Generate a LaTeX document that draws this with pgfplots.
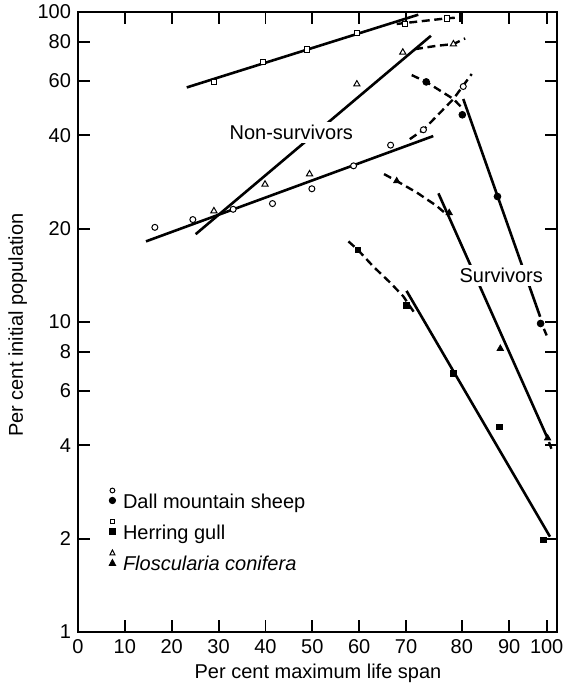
\documentclass[border=0pt]{standalone}
\usepackage{fontspec}
\setmainfont{Liberation Sans}
\usepackage{pgfplots}
\pgfplotsset{compat=1.18}
\pgfplotsset{
  fit/.style={black, line width=1.3pt, no marks, forget plot},
  dsh/.style={black, line width=1.2pt, dash pattern=on 4pt off 2.3pt, no marks, forget plot},
  om/.style={only marks, black, forget plot, mark options={line width=0.5pt, fill=white, solid}},
  fm/.style={only marks, black, forget plot, mark options={fill=black, solid}},
}
\begin{document}
\begin{tikzpicture}
\begin{axis}[
  scale only axis, width=239.5pt, height=310pt,
  xmin=0, xmax=102.2, ymin=1, ymax=100, ymode=log,
  xtick={0,10,20,30,40,50,60,70,81.9,92,100},
  xticklabels={0,10,20,30,40,50,60,70,80,90,100},
  ytick={1,2,4,6,8,10,20,40,60,80,100},
  yticklabels={1,2,4,6,8,10,20,40,60,80,100},
  minor ytick={},
  xtick pos=both, ytick pos=both, xticklabel pos=lower, yticklabel pos=left,
  tick align=inside, major tick length=6pt,
  every tick/.style={black, line width=0.9pt},
  axis line style={black, line width=1.2pt},
  tick label style={font=\fontsize{10}{12}\selectfont},
  /pgf/number format/assume math mode=true,
  xlabel={Per cent maximum life span},
  ylabel={Per cent initial population},
  xlabel style={at={(axis description cs:0.501,-0.066)}, anchor=center, font=\fontsize{10}{12}\selectfont},
  ylabel style={at={(axis description cs:-0.126,0.495)}, anchor=center, font=\fontsize{10}{12}\selectfont},
  legend style={at={(axis description cs:0.051,0.24)}, anchor=north west, draw=none, fill=none,
    font=\fontsize{10}{12}\selectfont, row sep=1.5pt},
  legend cell align=left,
]
% ---------- Herring gull, non-survivors
\addplot[fit] coordinates {(23.2,57.1) (72.6,98.0)};
\addplot[dsh] coordinates {(68.0,91.5) (78.7,95.4) (81.5,96.1)};
\addplot[only marks, mark=|, mark size=2.5pt, black, line width=0.9pt, forget plot] coordinates {(81.5,96.1)};
\addplot[om, mark=square*, mark size=1.35pt] coordinates {(29.0,59.5) (39.5,69.1) (48.9,75.8) (59.5,85.4) (69.8,91.3) (78.7,95.4)};
% ---------- Floscularia, non-survivors
\addplot[fit] coordinates {(25.1,19.2) (75.3,83.8)};
\addplot[dsh] coordinates {(71.9,75.9) (76.5,77.8) (80.1,78.8) (82.6,82.2)};
\addplot[om, mark=triangle*, mark size=1.8pt] coordinates {(29.0,22.8) (39.9,27.8) (49.4,30.0) (59.5,58.5) (69.3,74.1) (80.1,78.8)};
% ---------- Dall sheep, non-survivors
\addplot[fit] coordinates {(14.5,18.2) (75.8,39.8)};
\addplot[dsh] coordinates {(70.8,38.9) (73.7,41.7) (80.1,52.4) (84.0,63.1)};
\addplot[om, mark=*, mark size=1.5pt] coordinates {(16.4,20.2) (24.5,21.4) (33.1,23.1) (41.5,24.1) (49.9,26.9) (58.8,31.9) (66.7,37.2) (73.7,41.7) (82.2,57.5)};
% ---------- Dall sheep, survivors
\addplot[dsh] coordinates {(71.2,62.6) (74.3,59.5) (80.1,52.4) (82.2,48.6)};
\addplot[fit] coordinates {(82.2,52.4) (98.6,10.4)};
\addplot[dsh] coordinates {(99.4,9.5) (100.0,9.05)};
\addplot[fm, mark=*, mark size=1.7pt] coordinates {(74.3,59.5) (82.0,46.6) (89.5,25.4) (98.7,9.89)};
% ---------- Floscularia, survivors
\addplot[dsh] coordinates {(65.3,30.0) (68.0,28.5) (72.3,26.15) (76.5,23.7) (78.7,22.2)};
\addplot[fit] coordinates {(76.9,26.0) (100.0,4.28)};
\addplot[dsh] coordinates {(100.5,4.1) (101.0,3.9)};
\addplot[fm, mark=triangle*, mark size=1.8pt] coordinates {(68.0,28.5) (79.2,22.5) (90.1,8.21) (100.2,4.22)};
% ---------- Herring gull, survivors
\addplot[dsh] coordinates {(57.7,18.2) (59.7,17.1) (63.0,15.1) (66.6,13.4) (69.4,12.1) (71.6,10.8)};
\addplot[fit] coordinates {(70.1,12.6) (100.7,2.03)};
\addplot[fm, mark=square*, mark size=1.35pt] coordinates {(59.7,17.1) (70.1,11.3) (80.1,6.82) (89.9,4.59) (99.3,1.98)};
% ---------- labels
\node[font=\fontsize{10}{12}\selectfont, fill=white, inner sep=1.5pt] at (axis cs:45.5,40.9) {Non-survivors};
\node[font=\fontsize{10}{12}\selectfont, fill=white, inner sep=1.5pt] at (axis cs:90.3,14.1) {Survivors};
% ---------- legend
\addlegendimage{legend image code/.code={
  \draw[line width=0.5pt] (0.3em,0.62em) circle (1.2pt);
  \fill (0.3em,0.12em) circle (1.6pt);
  \path (0.3em+3.1pt,0.12em);}}
\addlegendentry{Dall mountain sheep}
\addlegendimage{legend image code/.code={
  \draw[line width=0.5pt] (0.3em-1.1pt,0.62em-1.1pt) rectangle (0.3em+1.1pt,0.62em+1.1pt);
  \fill (0.3em-1.4pt,0.12em-1.4pt) rectangle (0.3em+1.4pt,0.12em+1.4pt);
  \path (0.3em+3.1pt,0.12em);}}
\addlegendentry{Herring gull}
\addlegendimage{legend image code/.code={
  \draw[line width=0.5pt] (0.3em-1.3pt,0.62em-1.1pt) -- (0.3em+1.3pt,0.62em-1.1pt) -- (0.3em,0.62em+1.4pt) -- cycle;
  \fill (0.3em-1.6pt,0.12em-1.3pt) -- (0.3em+1.6pt,0.12em-1.3pt) -- (0.3em,0.12em+1.7pt) -- cycle;
  \path (0.3em+3.1pt,0.12em);}}
\addlegendentry{\itshape Floscularia conifera}
\end{axis}
\pgfresetboundingbox
\path (current axis.south west) ++(-39pt,-26.5pt) rectangle ++(285pt,342.5pt);
\end{tikzpicture}
\end{document}
